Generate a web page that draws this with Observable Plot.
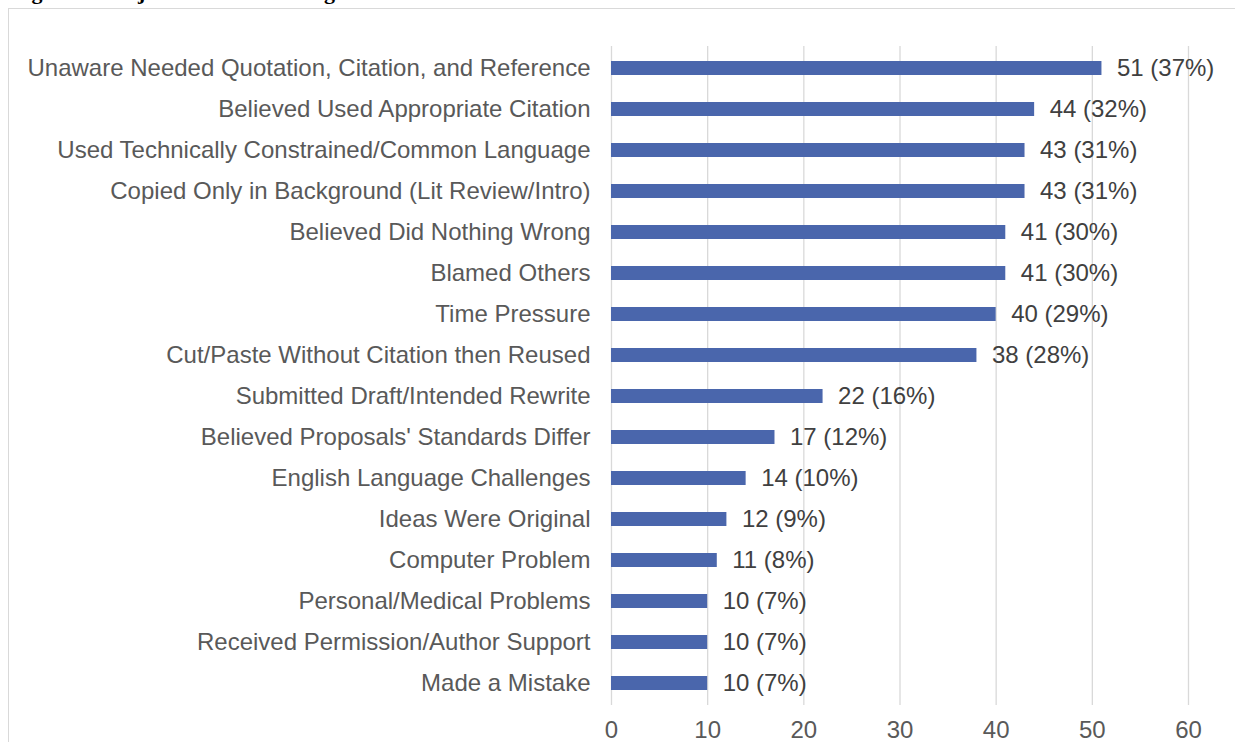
<!DOCTYPE html>
<html>
<head>
<meta charset="utf-8">
<script src="https://cdn.jsdelivr.net/npm/d3@7"></script>
<script src="https://cdn.jsdelivr.net/npm/@observablehq/plot@0.6"></script>
<style>
  html, body { margin: 0; padding: 0; background: #fff; overflow: hidden; }
  #wrap { position: relative; width: 1235px; height: 742px; overflow: hidden; }
  #title { position: absolute; left: 12px; top: -21px; line-height: 25px; font-family: "Liberation Serif", "Times New Roman", serif; font-weight: bold; font-size: 22px; color: #000; white-space: nowrap; }
  #frame { position: absolute; left: 8px; top: 8px; width: 1240px; height: 760px; border-left: 1px solid #d9d9d9; border-top: 1px solid #d9d9d9; }
  #chart { position: absolute; left: 0; top: 0; }
</style>
</head>
<body>
<div id="wrap">
  <div id="title">Figure 2. Subject Reasons for Plagiarism Given</div>
  <div id="frame"></div>
  <div id="chart"></div>
</div>
<script>
const categories = [
  "Unaware Needed Quotation, Citation, and Reference",
  "Believed Used Appropriate Citation",
  "Used Technically Constrained/Common Language",
  "Copied Only in Background (Lit Review/Intro)",
  "Believed Did Nothing Wrong",
  "Blamed Others",
  "Time Pressure",
  "Cut/Paste Without Citation then Reused",
  "Submitted Draft/Intended Rewrite",
  "Believed Proposals' Standards Differ",
  "English Language Challenges",
  "Ideas Were Original",
  "Computer Problem",
  "Personal/Medical Problems",
  "Received Permission/Author Support",
  "Made a Mistake"
];
const counts = [51, 44, 43, 43, 41, 41, 40, 38, 22, 17, 14, 12, 11, 10, 10, 10];
const percents = [37, 32, 31, 31, 30, 30, 29, 28, 16, 12, 10, 9, 8, 7, 7, 7];
const xTicks = [0, 10, 20, 30, 40, 50, 60];

const data = categories.map((c, i) => ({category: c, count: counts[i], pct: percents[i]}));

const chart = Plot.plot({
  width: 1235,
  height: 742,
  marginLeft: 611,
  marginRight: 47,
  marginTop: 46,
  marginBottom: 37,
  style: {fontFamily: "Liberation Sans, Arial, sans-serif", background: "transparent", overflow: "visible"},
  x: {domain: [0, 60], ticks: xTicks},
  y: {domain: categories, paddingInner: 0.65, paddingOuter: 0.335},
  marks: [
    Plot.gridX(xTicks, {stroke: "#d9d9d9", strokeOpacity: 1, strokeWidth: 1.3}),
    Plot.barX(data, {x: "count", y: "category", fill: "#4a66ac"}),
    Plot.text(data, {x: "count", y: "category", text: d => `${d.count} (${d.pct}%)`, textAnchor: "start", dx: 15, fontSize: 24, fill: "#404040"}),
    Plot.axisY({tickSize: 0, tickPadding: 21, fontSize: 24, color: "#595959", label: null}),
    Plot.axisX({ticks: xTicks, tickSize: 0, tickPadding: 15, fontSize: 24, color: "#595959", label: null})
  ]
});
document.getElementById("chart").appendChild(chart);
</script>
</body>
</html>
